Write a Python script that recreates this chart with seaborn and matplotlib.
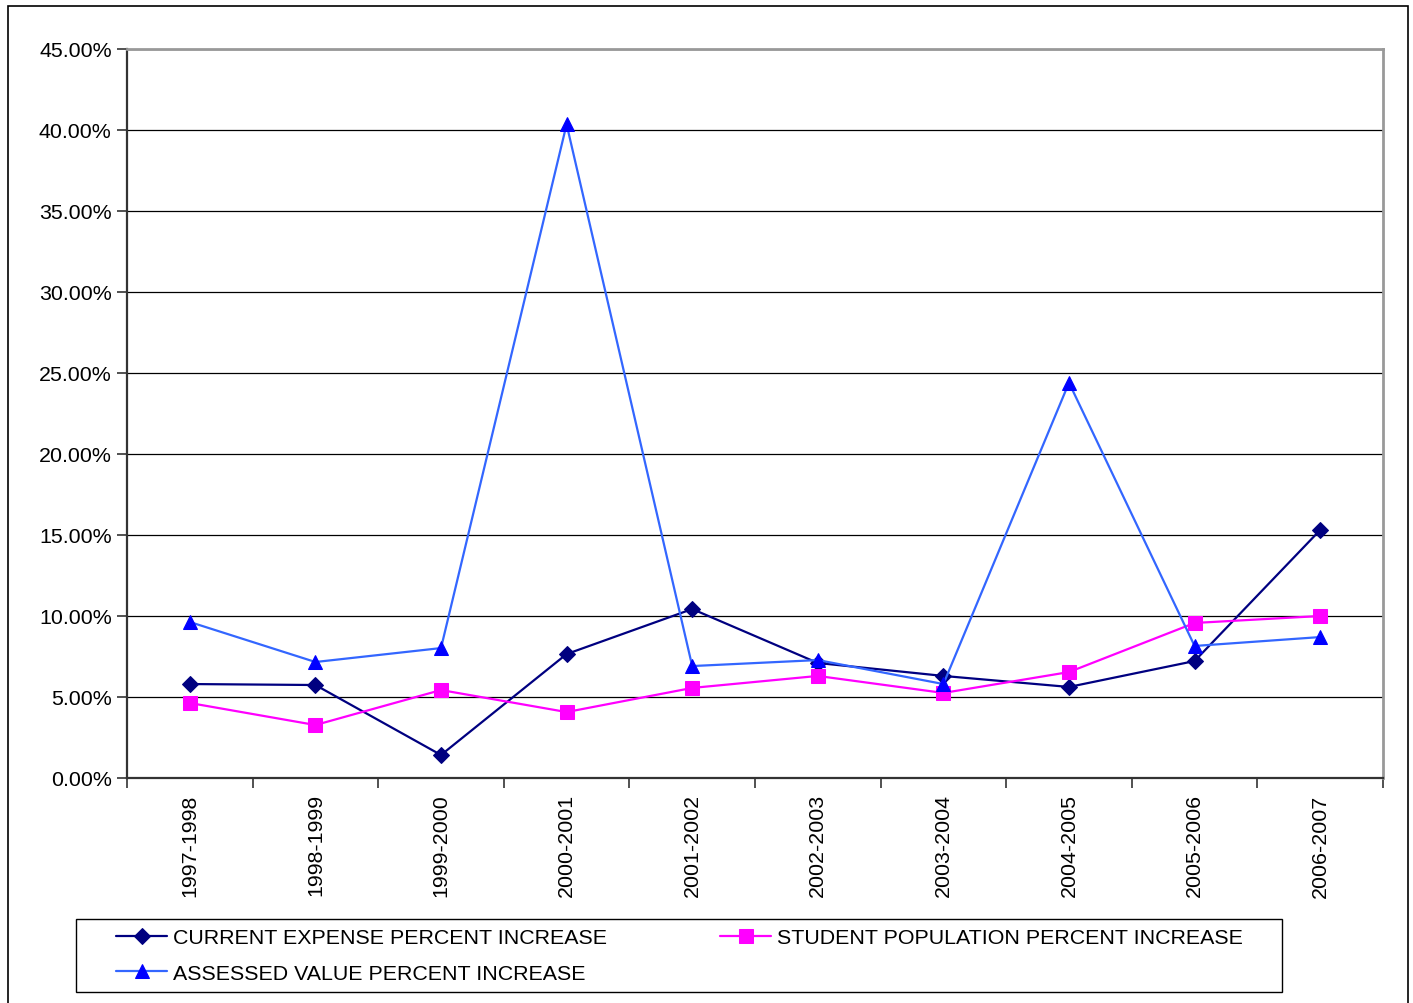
import matplotlib
matplotlib.use("Agg")
import matplotlib.pyplot as plt
from matplotlib.patches import Rectangle
from matplotlib.ticker import FuncFormatter, FixedLocator
import seaborn as sns
import pandas as pd
import numpy as np

years = ["1997-1998", "1998-1999", "1999-2000", "2000-2001", "2001-2002",
         "2002-2003", "2003-2004", "2004-2005", "2005-2006", "2006-2007"]
current_expense = [5.80, 5.74, 1.42, 7.65, 10.43, 7.10, 6.30, 5.62, 7.22, 15.31]
student_population = [4.63, 3.27, 5.43, 4.07, 5.56, 6.30, 5.25, 6.54, 9.57, 10.00]
assessed_value = [9.63, 7.16, 8.02, 40.35, 6.91, 7.28, 5.80, 24.40, 8.15, 8.70]

series_names = ["CURRENT EXPENSE PERCENT INCREASE",
                "STUDENT POPULATION PERCENT INCREASE",
                "ASSESSED VALUE PERCENT INCREASE"]

sns.set_theme(style="white")
plt.rcParams["font.family"] = ["Liberation Sans", "DejaVu Sans"]
plt.rcParams["text.color"] = "black"

df = pd.DataFrame({
    "year": years * 3,
    "x": list(range(len(years))) * 3,
    "value": current_expense + student_population + assessed_value,
    "series": ([series_names[0]] * len(years) + [series_names[1]] * len(years)
               + [series_names[2]] * len(years)),
})

W, H = 1413, 1004
fig = plt.figure(figsize=(W / 100, H / 100), dpi=100)
ax = fig.add_axes([127 / W, 1 - 779 / H, (1383 - 127) / W, (779 - 50) / H])

styles = {
    series_names[0]: dict(color="#000080", marker="D", markersize=8.5,
                          markerfacecolor="#000080", markeredgecolor="#000080"),
    series_names[1]: dict(color="#FF00FF", marker="s", markersize=10,
                          markerfacecolor="#FF00FF", markeredgecolor="#FF00FF"),
    series_names[2]: dict(color="#3366FF", marker="^", markersize=10,
                          markerfacecolor="#0000FF", markeredgecolor="#0000FF"),
}

for name in series_names:
    sub = df[df["series"] == name]
    st = styles[name]
    sns.lineplot(data=sub, x="x", y="value", ax=ax, color=st["color"],
                 marker=st["marker"], markersize=st["markersize"],
                 markerfacecolor=st["markerfacecolor"],
                 markeredgecolor=st["markeredgecolor"],
                 linewidth=1.6, label=name, zorder=3)

ax.set_xlim(-0.5, len(years) - 0.5)
ax.set_ylim(0, 45)
ax.set_xlabel("")
ax.set_ylabel("")

FS = 15.4

# y axis: percent ticks with horizontal gridlines
ax.yaxis.set_major_locator(FixedLocator(np.arange(0, 46, 5)))
ax.yaxis.set_major_formatter(FuncFormatter(lambda v, p: f"{v:.2f}%"))
ax.yaxis.grid(True, color="black", linewidth=0.9)
ax.set_axisbelow(True)

# x axis: tick marks between categories, labels centred on categories
ax.xaxis.set_major_locator(FixedLocator(np.arange(-0.5, len(years), 1.0)))
ax.xaxis.set_major_formatter(FuncFormatter(lambda v, p: ""))
ax.xaxis.set_minor_locator(FixedLocator(np.arange(len(years))))
ax.set_xticklabels(years, minor=True, rotation=90)

ax.tick_params(axis="x", which="major", direction="out", length=7, width=1.2,
               color="#333333", bottom=True)
ax.tick_params(axis="x", which="minor", length=0, labelsize=FS, pad=11,
               labelcolor="black", bottom=True)
ax.tick_params(axis="y", which="major", direction="out", length=7, width=1.2,
               color="#333333", left=True, labelsize=FS, pad=4, labelcolor="black")

for side in ["left", "bottom"]:
    ax.spines[side].set_color("#333333")
    ax.spines[side].set_linewidth(1.6)
for side in ["top", "right"]:
    ax.spines[side].set_visible(True)
    ax.spines[side].set_color("#999999")
    ax.spines[side].set_linewidth(2)

# legend below the plot, two columns, inside its own box
handles, labels = ax.get_legend_handles_labels()
order = [0, 2, 1]
ax.legend([handles[i] for i in order], [labels[i] for i in order],
          ncol=2, loc="upper left",
          bbox_to_anchor=(116 / W, 1 - 929 / H),
          bbox_transform=fig.transFigure,
          frameon=False, fontsize=FS, labelcolor="black",
          handlelength=2.4, handletextpad=0.25, borderpad=0,
          labelspacing=0.78, columnspacing=5.3, borderaxespad=0)

fig.patches.append(Rectangle((76 / W, 1 - 993 / H), (1282 - 76) / W, 73 / H,
                             transform=fig.transFigure, fill=False,
                             edgecolor="black", linewidth=1.0))

# outer chart border
fig.patches.append(Rectangle((8 / W, -0.01), 1400 / W, 1 - 7 / H + 0.01,
                             transform=fig.transFigure, fill=False,
                             edgecolor="black", linewidth=1.2))

fig.savefig("out.png", dpi=100)
